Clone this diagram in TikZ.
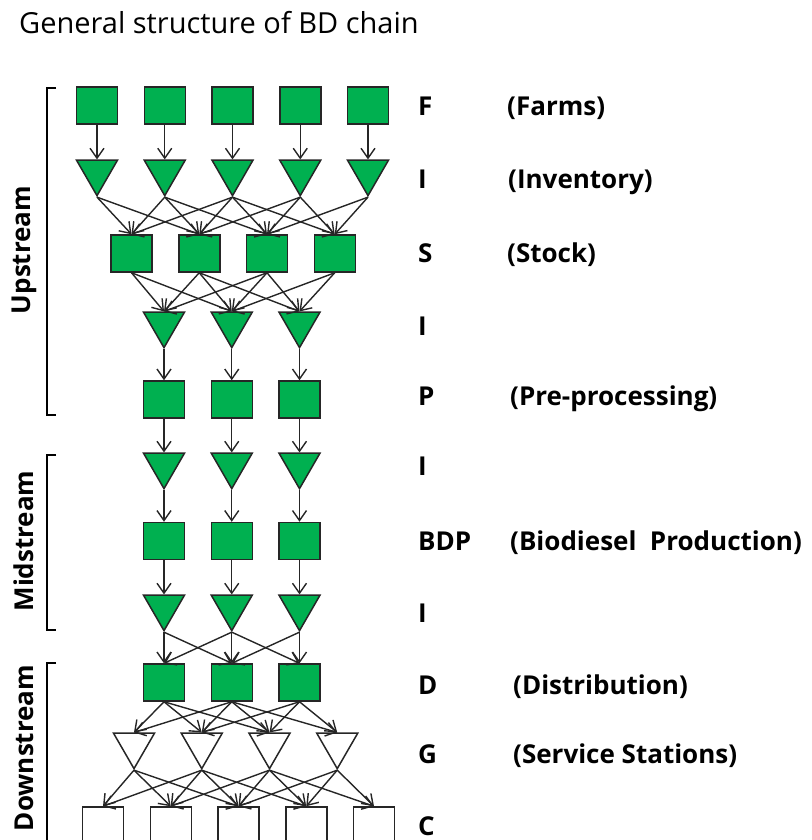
\documentclass[tikz,border=0pt]{standalone}
\usepackage{fontspec}
\setmainfont{Open Sans}
\usetikzlibrary{arrows.meta,shapes.geometric}

\definecolor{leaf}{HTML}{00B050}
\definecolor{rim}{HTML}{262626}

\begin{document}
\begin{tikzpicture}[x=1pt,y=-1pt]
\tikzstyle{unit}=[rectangle,draw=rim,line width=1.5pt,fill=leaf,minimum width=41pt,minimum height=37pt,inner sep=0pt]
\tikzstyle{store}=[regular polygon,regular polygon sides=3,shape border rotate=180,draw=rim,line width=1.5pt,fill=leaf,minimum size=47.3pt,inner sep=0pt]
\tikzstyle{flow}=[-{Straight Barb[length=10pt,width=14pt]},draw=rim,line width=1.4pt]
\tikzstyle{tag}=[anchor=base west,inner sep=0pt,font=\fontsize{26}{31}\selectfont\bfseries]
\tikzstyle{stage}=[rotate=90,inner sep=0pt,font=\fontsize{26}{31}\selectfont\bfseries]
\useasboundingbox (0,0) rectangle (811,840);

\node[anchor=base west,inner sep=0pt,font=\fontsize{29}{35}\selectfont] (title) at (19,34) {General structure of BD chain};

% upstream: farms, inventory, stock, inventory, pre-processing
\foreach \i [evaluate=\i as \x using 29.25+67.75*\i] in {1,...,5} {
  \node[unit] (f\i) at (\x,105.5) {};
  \node[store] (ia\i) at (\x,172) {};
}
\foreach \i [evaluate=\i as \x using 63.75+67.75*\i] in {1,...,4}
  \node[unit] (s\i) at (\x,253.5) {};
\foreach \i [evaluate=\i as \x using 96.25+67.75*\i] in {1,2,3} {
  \node[store] (ib\i) at (\x,324) {};
  \node[unit] (p\i) at (\x,399.5) {};
  % midstream: inventory, biodiesel production, inventory
  \node[store] (ic\i) at (\x,465) {};
  \node[unit] (b\i) at (\x,541) {};
  \node[store] (id\i) at (\x,607) {};
  % downstream: distribution
  \node[unit] (d\i) at (\x,682.5) {};
}
% service stations and customers are left blank
\foreach \i [evaluate=\i as \x using 66.25+67.75*\i] in {1,...,4}
  \node[store,fill=white] (g\i) at (\x,745) {};
\foreach \i [evaluate=\i as \x using 35.25+67.75*\i] in {1,...,5}
  \node[unit,fill=white] (c\i) at (\x,825.5) {};

% links between the tiers
\foreach \i in {1,...,5}
  \draw[flow] (f\i.south) -- (ia\i.north);
\foreach \i in {1,...,5} \foreach \j in {1,...,4} {
  \pgfmathtruncatemacro\gap{\i-\j}
  \ifnum\gap>-2 \ifnum\gap<3 \draw[flow] (ia\i.south) -- (s\j.north); \fi\fi
}
\foreach \i in {1,...,4} \foreach \j in {1,2,3} {
  \pgfmathtruncatemacro\gap{\i-\j}
  \ifnum\gap>-2 \ifnum\gap<3 \draw[flow] (s\i.south) -- (ib\j.north); \fi\fi
}
\foreach \i in {1,2,3} {
  \draw[flow] (ib\i.south) -- (p\i.north);
  \draw[flow] (p\i.south) -- (ic\i.north);
  \draw[flow] (ic\i.south) -- (b\i.north);
  \draw[flow] (b\i.south) -- (id\i.north);
}
\foreach \i in {1,2,3} \foreach \j in {1,2,3} {
  \pgfmathtruncatemacro\gap{\i-\j}
  \ifnum\gap>-2 \ifnum\gap<2 \draw[flow] (id\i.south) -- (d\j.north); \fi\fi
}
\foreach \i in {1,2,3} \foreach \j in {1,...,4} {
  \pgfmathtruncatemacro\gap{\i-\j}
  \ifnum\gap>-3 \ifnum\gap<2 \draw[flow] (d\i.south) -- (g\j.north); \fi\fi
}
\foreach \i in {1,...,4} \foreach \j in {1,...,5} {
  \pgfmathtruncatemacro\gap{\i-\j}
  \ifnum\gap>-3 \ifnum\gap<2 \draw[flow] (g\i.south) -- (c\j.north); \fi\fi
}

% tier codes and their meaning
\foreach \code/\role/\y/\rx [count=\k] in {F/(Farms)/116/507, I/(Inventory)/188/508,
    S/(Stock)/262/507, I//335/507, P/(Pre-processing)/405/510, I//475/510,
    BDP/(Biodiesel\ \ Production)/550/510, I//622/510, D/(Distribution)/694/513,
    G/(Service Stations)/763/513, C//835/513} {
  \node[tag] (code\k) at (418,\y) {\code};
  \node[tag] (role\k) at (\rx,\y) {\role};
}

% stream brackets
\draw[line width=2.3pt] (56,88) -- (47,88) -- (47,415) -- (56,415);
\draw[line width=2.3pt] (56,455) -- (47,455) -- (47,630) -- (56,630);
\draw[line width=2.3pt] (56,663) -- (47,663) -- (47,850);
\node[stage] (up) at (24,250) {Upstream};
\node[stage] (mid) at (24,541) {Midstream};
\node[stage] (down) at (24,748) {Downstream};
\end{tikzpicture}
\end{document}
